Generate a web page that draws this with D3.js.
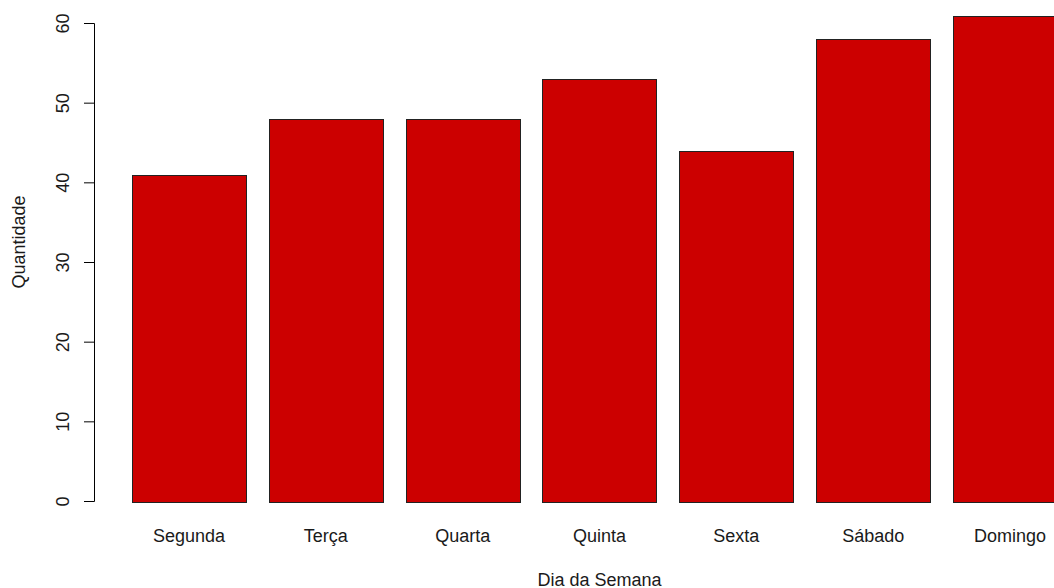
<!DOCTYPE html>
<html><head><meta charset="utf-8">
<script src="https://cdn.jsdelivr.net/npm/d3@7"></script>
<style>html,body{margin:0;padding:0;background:#fff;overflow:hidden}svg{display:block}text{font-family:"Liberation Sans",Arial,sans-serif;fill:#1a1a1a}</style>
</head><body>
<script>
const categories = ["Segunda","Terça","Quarta","Quinta","Sexta","Sábado","Domingo"];
const values = [41,48,48,53,44,58,61];
const yTicks = [0,10,20,30,40,50,60];
const xTitle = "Dia da Semana";
const yTitle = "Quantidade";

const W = 1054, H = 588;
const svg = d3.select("body").append("svg").attr("width", W).attr("height", H);

const x = d3.scaleBand().domain(categories).range([132, 1067]).paddingInner(1/6).paddingOuter(0);
const y = d3.scaleLinear().domain([0, 60]).range([501.5, 23.5]);
const fs = 18;

svg.append("g").selectAll("rect").data(values).join("rect")
  .attr("x", (d,i) => Math.round(x(categories[i])) + 0.5)
  .attr("y", d => Math.round(y(d)) + 0.5)
  .attr("width", Math.round(x.bandwidth()))
  .attr("height", d => Math.round(y(0)) - Math.round(y(d)))
  .attr("fill", "#CC0000").attr("stroke", "#222").attr("stroke-width", 1);

// y axis
const ya = svg.append("g");
ya.append("line").attr("x1", 94.5).attr("x2", 94.5).attr("y1", y(0)).attr("y2", y(60)).attr("stroke", "#000");
ya.selectAll("line.t").data(yTicks).join("line").attr("class","t")
  .attr("x1", 84).attr("x2", 94.5).attr("y1", d => y(d)).attr("y2", d => y(d)).attr("stroke", "#000");
ya.selectAll("text").data(yTicks).join("text")
  .attr("transform", d => `translate(69,${y(d)}) rotate(-90)`)
  .attr("text-anchor", "middle").attr("font-size", fs).text(d => d);

// x labels
svg.append("g").selectAll("text").data(categories).join("text")
  .attr("x", d => x(d) + x.bandwidth()/2).attr("y", 541.5)
  .attr("text-anchor", "middle").attr("font-size", fs).text(d => d);

svg.append("text").attr("x", 599.5).attr("y", 585.5).attr("text-anchor","middle").attr("font-size", fs).text(xTitle);
svg.append("text").attr("transform", "translate(25,242) rotate(-90)").attr("text-anchor","middle").attr("font-size", fs).text(yTitle);
</script>
</body></html>
